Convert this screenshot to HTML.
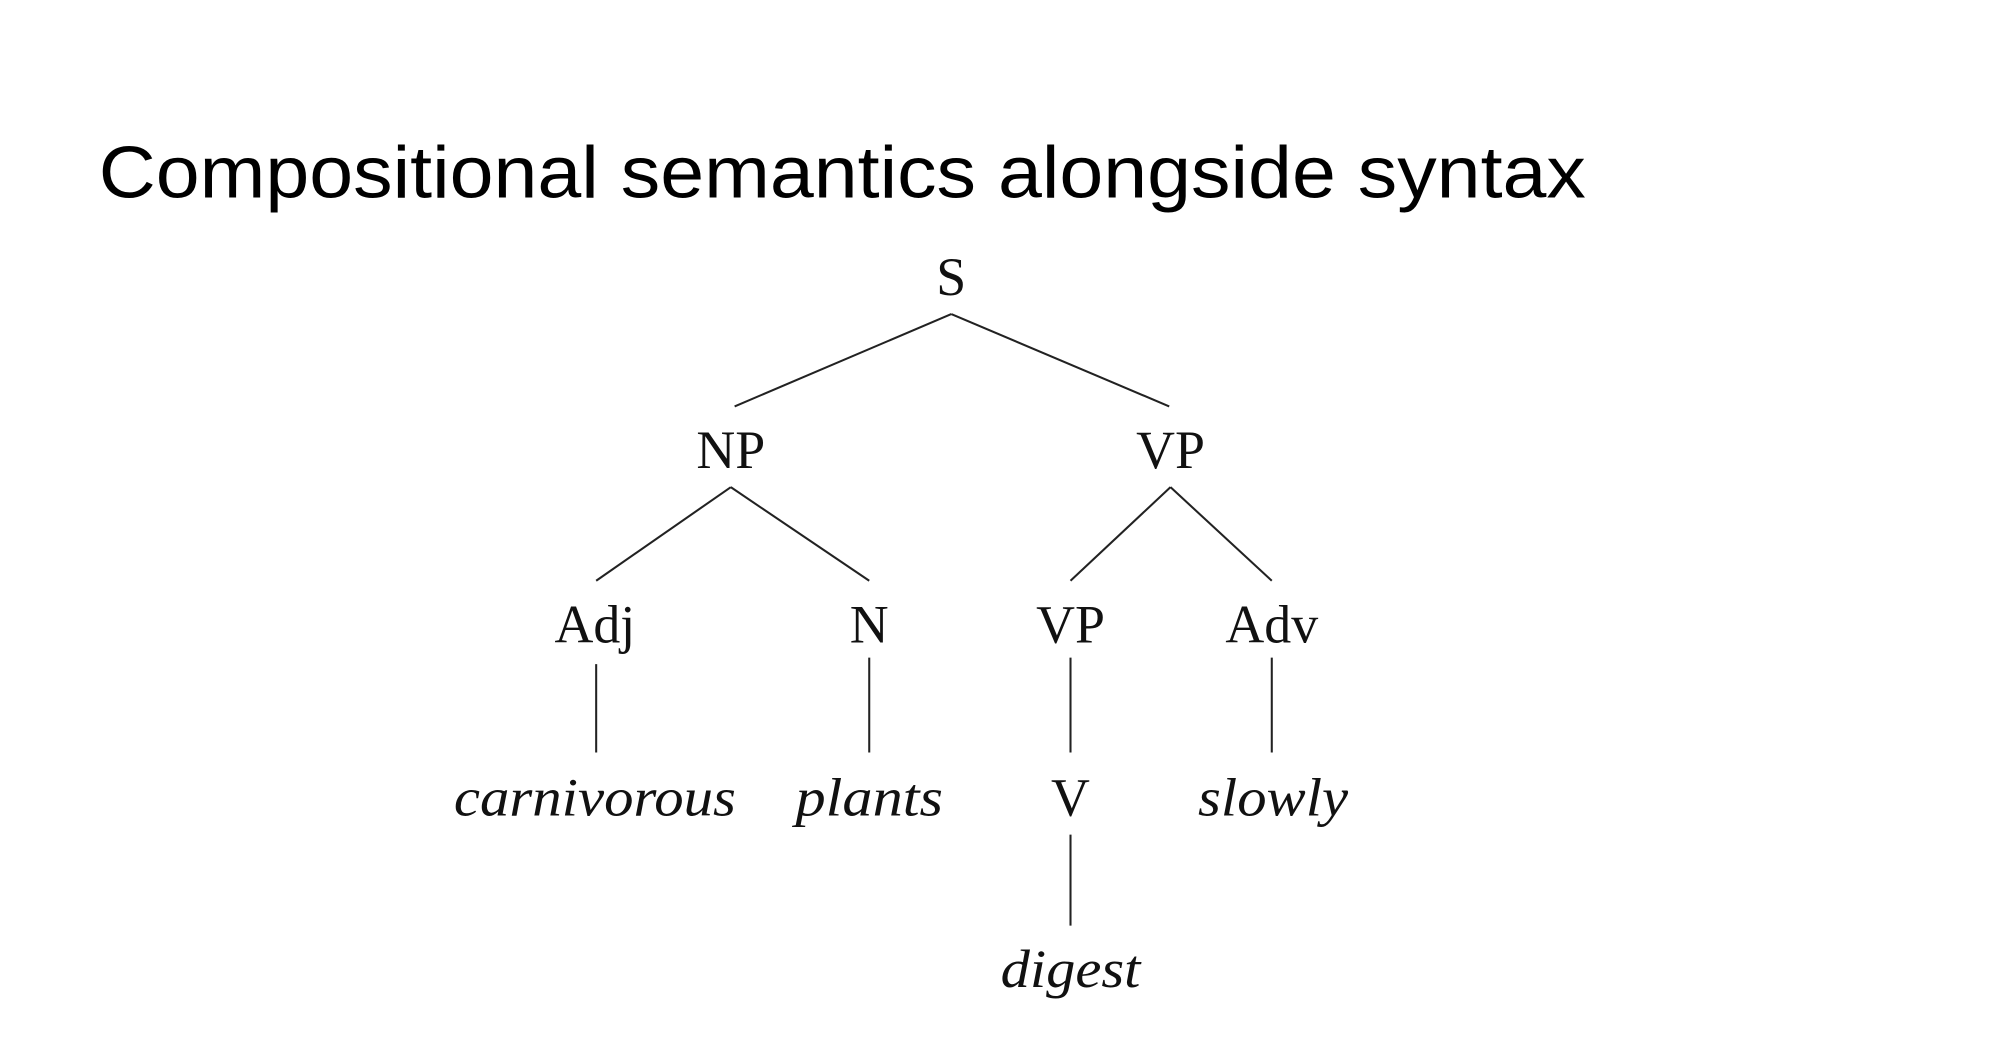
<!DOCTYPE html>
<html><head><meta charset="utf-8"><style>
html,body{margin:0;padding:0;background:#fff;width:2000px;height:1057px;overflow:hidden}
svg{display:block}
</style></head><body>
<svg width="2000" height="1057" viewBox="0 0 1560 824.5" xmlns="http://www.w3.org/2000/svg">
<rect width="1560" height="825" fill="#fff"/>
<text x="77" y="154" font-family="Liberation Sans, sans-serif" font-size="57" fill="#000" textLength="1160" lengthAdjust="spacingAndGlyphs">Compositional semantics alongside syntax</text>
<g transform="translate(-3,-3)">
<g stroke="#222" stroke-width="1.6" fill="none">
<line x1="745" y1="248" x2="576" y2="320"/>
<line x1="745" y1="248" x2="915" y2="320"/>
<line x1="573" y1="383" x2="468" y2="456"/>
<line x1="573" y1="383" x2="681" y2="456"/>
<line x1="916" y1="383" x2="838" y2="456"/>
<line x1="916" y1="383" x2="995" y2="456"/>
<line x1="468" y1="521" x2="468" y2="590"/>
<line x1="681" y1="516" x2="681" y2="590"/>
<line x1="838" y1="516" x2="838" y2="590"/>
<line x1="995" y1="516" x2="995" y2="590"/>
<line x1="838" y1="654" x2="838" y2="725"/>
</g>
<g font-family="Liberation Serif, serif" font-size="42" fill="#111" text-anchor="middle">
<text x="745" y="233">S</text>
<text x="573" y="368">NP</text>
<text x="916" y="368">VP</text>
<text x="467" y="504">Adj</text>
<text x="681" y="504">N</text>
<text x="838" y="504">VP</text>
<text x="995" y="504">Adv</text>
<text x="838" y="639">V</text>
<g font-style="italic" lengthAdjust="spacingAndGlyphs">
<text x="467" y="639" textLength="220" lengthAdjust="spacingAndGlyphs">carnivorous</text>
<text x="681" y="639" textLength="115" lengthAdjust="spacingAndGlyphs">plants</text>
<text x="996" y="639" textLength="117" lengthAdjust="spacingAndGlyphs">slowly</text>
<text x="838" y="773" textLength="109" lengthAdjust="spacingAndGlyphs">digest</text>
</g>
</g>
</g>
</svg>
</body></html>
